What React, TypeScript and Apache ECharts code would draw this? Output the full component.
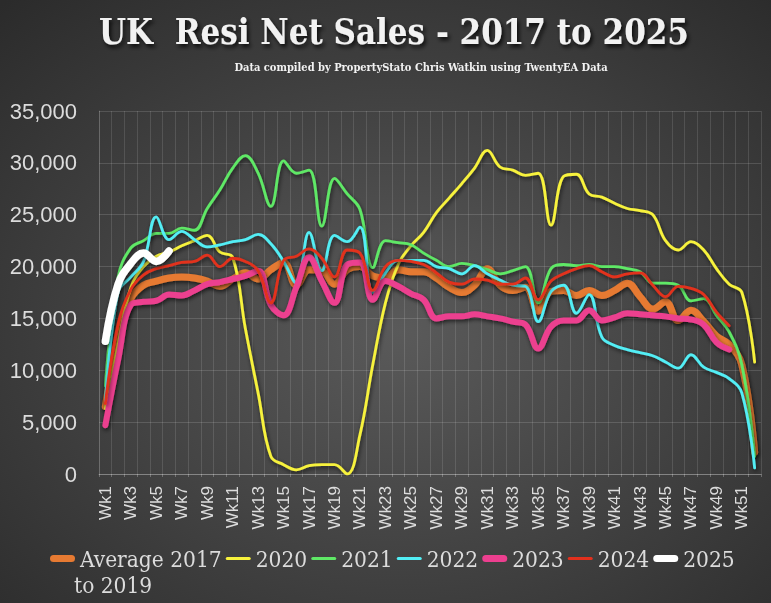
import { useEffect, useRef } from "react"
import * as echarts from "echarts"

// weeks 1..52
const weeks: string[] = Array.from({ length: 52 }, (_, i) => `Wk${i + 1}`)

const avg2017to2019 = [
  6500, 13000, 16900, 18200, 18600, 18900, 19000, 18900, 18600, 18100,
  18800, 19400, 18800, 19700, 20400, 18200, 19700, 19600, 18300, 19700,
  20000, 19100, 18900, 19700, 19500, 19500, 18900, 18000, 17500, 18200,
  19800, 18200, 17700, 18000, 15700, 17600, 17700, 17200, 17700, 17200,
  17700, 18400, 17100, 15900, 16600, 14800, 15800, 14700, 13300, 12500,
  10500, 2100,
]

const y2020 = [
  6300, 12500, 18000, 20000, 21000, 21400, 22000, 22500, 23000, 21400,
  20900, 14000, 7800, 1700, 900, 400, 800, 900, 900, 0,
  3800, 10500, 16500, 20200, 22000, 23300, 25200, 26600, 28000, 29500,
  31200, 29600, 29300, 28800, 29000, 24000, 28700, 28900, 27000, 26700,
  26100, 25600, 25400, 25000, 22500, 21600, 22400, 21600, 19800, 18300,
  17500, 10800,
]

const y2021 = [
  8500, 19000, 21800, 22500, 23200, 23200, 23700, 23500, 25600, 27400,
  29500, 30700, 29000, 25800, 30200, 29000, 29300, 23900, 28500, 27000,
  25500, 19900, 22500, 22300, 22100, 21300, 20600, 20000, 20300, 20100,
  19700, 19300, 19600, 20000, 16500, 19800, 20200, 20100, 20200, 20000,
  20000, 19800, 19500, 18400, 18400, 18200, 16700, 16900, 15300, 13700,
  10500, 1700,
]

const y2022 = [
  7000, 17500, 19000, 20500, 24800, 22600, 23400, 22600, 21900, 22100,
  22400, 22600, 23100, 22200, 20500, 18400, 23300, 19600, 23000, 22400,
  23800, 17500, 19400, 20600, 20600, 20600, 20000, 19800, 19300, 20100,
  19300, 18700, 18200, 18100, 14700, 17600, 18200, 15500, 17300, 13200,
  12400, 12000, 11700, 11400, 10800, 10200, 11500, 10300, 9800, 9200,
  7800, 600,
]

const y2023 = [
  4700, 11000, 16300, 16600, 16700, 17300, 17200, 17700, 18300, 18500,
  18800, 19100, 19600, 16300, 15300, 18000, 20900, 18600, 16500, 20200,
  20400, 16800, 18600, 18100, 17400, 16800, 15000, 15200, 15200, 15400,
  15200, 15000, 14700, 14400, 12100, 14200, 14800, 14800, 15800, 14800,
  15100, 15500, 15400, 15300, 15200, 15000, 14900, 14400, 12700, 12000,
]

const y2024 = [
  6800, 14500, 17800, 19200, 19800, 20100, 20400, 20500, 21100, 20000,
  20800, 20500, 19600, 16500, 20600, 21000, 21700, 20800, 19000, 21600,
  21300, 17700, 20000, 20600, 20500, 20200, 19400, 18500, 18300, 18800,
  18700, 18300, 18300, 18900, 16800, 18600, 19300, 19800, 20100, 19500,
  19000, 19300, 19400, 18200, 17100, 18100, 17900, 17300, 15600, 14300,
]

const y2025 = [12800, 18300, 20300, 21300, 20500, 21500]

// rounded bar used as legend icon, thin or thick
const thinIcon = "path://M1.5,0H23.5A1.5,1.5,0,0,1,23.5,3H1.5A1.5,1.5,0,0,1,1.5,0Z"
const thickIcon = "path://M3.5,0H21.5A3.5,3.5,0,0,1,21.5,7H3.5A3.5,3.5,0,0,1,3.5,0Z"

const seriesDefs = [
  { name: "Average 2017 to 2019", data: avg2017to2019, color: "#e67a32", width: 7, icon: thickIcon },
  { name: "2020", data: y2020, color: "#f7f23c", width: 2.8, icon: thinIcon },
  { name: "2021", data: y2021, color: "#5fe866", width: 2.8, icon: thinIcon },
  { name: "2022", data: y2022, color: "#52eef5", width: 2.8, icon: thinIcon },
  { name: "2023", data: y2023, color: "#ec3f8f", width: 6, icon: thickIcon },
  { name: "2024", data: y2024, color: "#e2301d", width: 2.8, icon: thinIcon },
  { name: "2025", data: y2025, color: "#ffffff", width: 7.5, icon: thickIcon },
]

const textGrey = "#dcdcdc"
const slab = "'DejaVu Serif Condensed', 'DejaVu Serif', serif"

export default function App() {
  const chartRef = useRef<HTMLDivElement>(null)

  useEffect(() => {
    if (!chartRef.current) return
    const chart = echarts.init(chartRef.current, undefined, { renderer: "svg" })

    const options: echarts.EChartsOption = {
      animation: false,
      backgroundColor: new echarts.graphic.RadialGradient(0.52, 0.55, 0.75, [
        { offset: 0, color: "#5a5a5a" },
        { offset: 1, color: "#2b2b2b" },
      ]),
      title: [
        {
          text: "UK  Resi Net Sales - 2017 to 2025",
          left: 389,
          top: 9,
          textAlign: "center",
          textStyle: {
            color: "#f2f2f2",
            fontFamily: slab,
            fontWeight: "bold",
            fontSize: 34.5,
            textShadowColor: "rgba(0,0,0,0.8)",
            textShadowBlur: 4,
            textShadowOffsetX: 2,
            textShadowOffsetY: 3,
          },
        },
        {
          text: "Data compiled by PropertyStato Chris Watkin using TwentyEA Data",
          left: 416,
          top: 57,
          textAlign: "center",
          textStyle: {
            color: "#f2f2f2",
            fontFamily: slab,
            fontWeight: "bold",
            fontSize: 11,
          },
        },
      ],
      grid: { left: 99, right: 10, top: 111, bottom: 129 },
      legend: {
        left: 45,
        top: 542,
        itemWidth: 25,
        itemHeight: 14,
        itemGap: 4,
        symbolKeepAspect: true,
        formatter: (name: string) => (name === "Average 2017 to 2019" ? "Average 2017" : name),
        textStyle: { color: textGrey, fontFamily: slab, fontSize: 22.5 },
        data: seriesDefs.map((s) => ({ name: s.name, icon: s.icon })),
      },
      graphic: [
        {
          type: "text",
          left: 74,
          top: 573,
          style: { text: "to 2019", fill: textGrey, font: `22.5px ${slab}` },
        },
      ],
      xAxis: {
        type: "category",
        data: weeks,
        boundaryGap: true,
        axisLine: { lineStyle: { color: "rgba(255,255,255,0.25)" } },
        axisTick: { show: true, interval: 0, length: 3, lineStyle: { color: "rgba(255,255,255,0.25)" } },
        axisLabel: {
          interval: 1,
          rotate: 90,
          margin: 12,
          color: textGrey,
          fontFamily: "'Liberation Sans', sans-serif",
          fontSize: 17,
        },
        splitLine: { show: true, interval: 0, lineStyle: { color: "rgba(255,255,255,0.12)" } },
      },
      yAxis: {
        type: "value",
        min: 0,
        max: 35000,
        interval: 5000,
        axisLine: { show: true, lineStyle: { color: "rgba(255,255,255,0.14)" } },
        axisLabel: {
          margin: 22,
          color: textGrey,
          fontFamily: "'Liberation Sans', sans-serif",
          fontSize: 22,
          formatter: (v: number) => v.toLocaleString("en-US"),
        },
        splitLine: { lineStyle: { color: "rgba(255,255,255,0.14)" } },
      },
      series: seriesDefs.map((s) => ({
        name: s.name,
        type: "line",
        data: s.data,
        smooth: 0.4,
        symbol: "none",
        color: s.color,
        lineStyle: {
          color: s.color,
          width: s.width,
          cap: "round",
          join: "round",
          shadowColor: "rgba(0,0,0,0.65)",
          shadowBlur: 4,
          shadowOffsetX: 1,
          shadowOffsetY: 2,
        },
      })),
    }

    chart.setOption(options)
    return () => chart.dispose()
  }, [])

  return (
    <div
      ref={chartRef}
      style={{ position: "fixed", left: 0, top: 0, width: 771, height: 603 }}
    />
  )
}
